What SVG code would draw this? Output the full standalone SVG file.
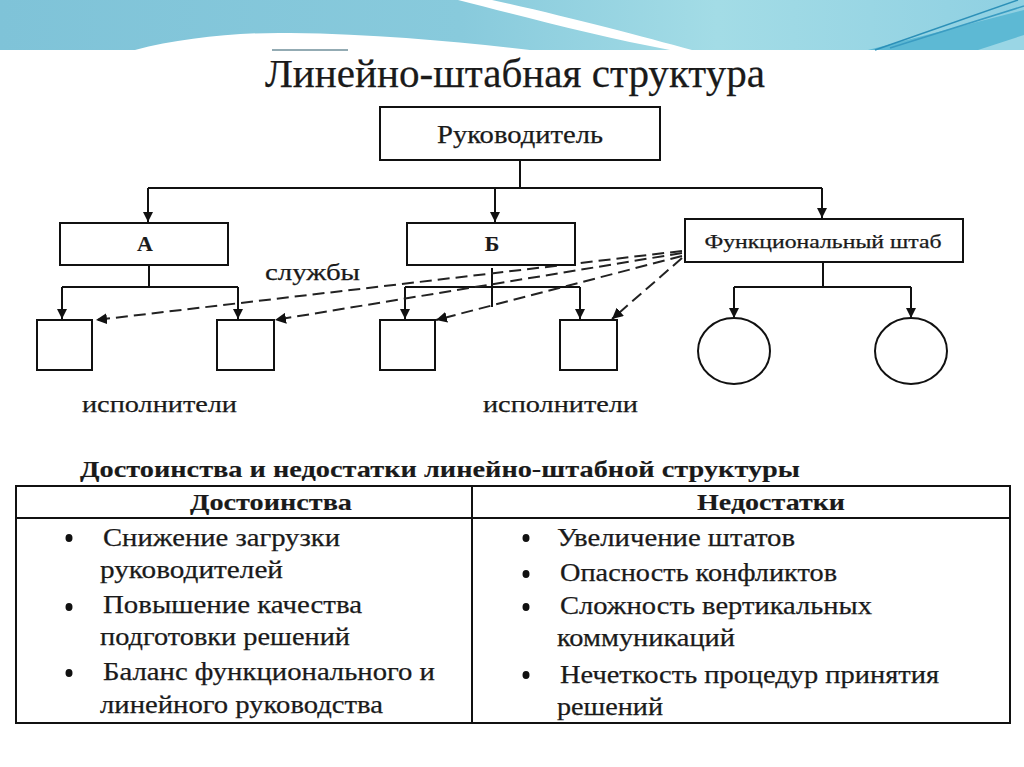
<svg xmlns="http://www.w3.org/2000/svg" width="1024" height="767" viewBox="0 0 1024 767">
<defs>
<linearGradient id="bg" x1="0" y1="0" x2="1" y2="0">
<stop offset="0" stop-color="#7fc3d8"/>
<stop offset="0.45" stop-color="#88cadc"/>
<stop offset="0.7" stop-color="#a3dce6"/>
<stop offset="1" stop-color="#8fd0e2"/>
</linearGradient>
<marker id="ah" viewBox="0 0 10 10" refX="10" refY="5" markerWidth="10" markerHeight="11" markerUnits="userSpaceOnUse" orient="auto">
<path d="M0,0 L10,5 L0,10 Z" fill="#111"/>
</marker>
<marker id="ahd" viewBox="0 0 10 10" refX="10" refY="5" markerWidth="11" markerHeight="11" markerUnits="userSpaceOnUse" orient="auto">
<path d="M0,0 L10,5 L0,10 Z" fill="#111"/>
</marker>
</defs>
<style>
.box{fill:#fff;stroke:#111;stroke-width:2}
.ln{fill:none;stroke:#111;stroke-width:2}
.arr{fill:none;stroke:#111;stroke-width:2;marker-end:url(#ah)}
.dash{fill:none;stroke:#222;stroke-width:2;stroke-dasharray:12 6;marker-end:url(#ahd)}
.t{font-family:"Liberation Serif","Times New Roman","DejaVu Serif",serif;fill:#1a1a1a;stroke:#1a1a1a;stroke-width:0.25}
.b{font-weight:bold;stroke-width:0.15}
</style>
<rect width="1024" height="767" fill="#fff"/>
<g id="banner">
<rect x="0" y="0" width="1024" height="50" fill="url(#bg)"/>
<path d="M135,50 C180,38 240,32 290,33 C380,34 460,42 530,50 Z" fill="#fff"/>
<path d="M458,0 L492,0 C565,16 640,36 692,50 L670,50 C600,37 525,17 458,0 Z" fill="#fff"/>
<path d="M868,50 L1024,10 L1024,50 Z" fill="#5db9d4"/>
<path d="M875,50 L1018,0" stroke="#2c90b8" stroke-width="1.5" fill="none"/>
<path d="M890,48 L1024,6" stroke="#3a9cc2" stroke-width="1.5" fill="none"/>
<path d="M978,50 L1024,35 L1024,50 Z" fill="#9ad6e5"/>
<line x1="272" y1="50" x2="348" y2="50" stroke="#6f8f9a" stroke-width="1.5"/>
</g>
<text class="t" x="515" y="87" font-size="40" text-anchor="middle" textLength="500" lengthAdjust="spacingAndGlyphs">Линейно-штабная структура</text>
<g id="connectors">
<line class="ln" x1="520" y1="160" x2="520" y2="188"/>
<line class="ln" x1="148" y1="188" x2="822" y2="188"/>
<line class="arr" x1="148" y1="188" x2="148" y2="222"/>
<line class="arr" x1="495" y1="188" x2="495" y2="222"/>
<line class="arr" x1="822" y1="188" x2="822" y2="218"/>
<line class="ln" x1="149" y1="265" x2="149" y2="287"/>
<line class="ln" x1="62" y1="287" x2="238" y2="287"/>
<line class="arr" x1="62" y1="287" x2="62" y2="319"/>
<line class="arr" x1="238" y1="287" x2="238" y2="319"/>
<line class="ln" x1="405" y1="287" x2="580" y2="287"/>
<line class="arr" x1="405" y1="287" x2="405" y2="319"/>
<line class="arr" x1="580" y1="287" x2="580" y2="319"/>
<line class="ln" x1="492" y1="268" x2="492" y2="307"/>
<line class="ln" x1="823" y1="262" x2="823" y2="287"/>
<line class="ln" x1="734" y1="287" x2="911" y2="287"/>
<line class="arr" x1="734" y1="287" x2="734" y2="318"/>
<line class="arr" x1="911" y1="287" x2="911" y2="318"/>
<line class="dash" x1="682" y1="251" x2="96" y2="320"/>
<line class="dash" x1="682" y1="253" x2="275" y2="320"/>
<line class="dash" x1="682" y1="256" x2="436" y2="320"/>
<line class="dash" x1="682" y1="258" x2="612" y2="319"/>
</g>
<g id="rukovoditel">
<rect class="box" x="380" y="107" width="280" height="53"/>
<text class="t" x="520" y="143" font-size="25" text-anchor="middle" textLength="166" lengthAdjust="spacingAndGlyphs">Руководитель</text>
</g>
<g id="nodeA">
<rect class="box" x="60" y="223" width="168" height="42"/>
<text class="t b" x="145" y="251" font-size="22" text-anchor="middle">А</text>
</g>
<g id="nodeB">
<rect class="box" x="407" y="223" width="168" height="42"/>
<text class="t b" x="492" y="251" font-size="22" text-anchor="middle">Б</text>
</g>
<g id="shtab">
<rect class="box" x="685" y="219" width="278" height="43"/>
<text class="t" x="823" y="248" font-size="19" text-anchor="middle" textLength="237" lengthAdjust="spacingAndGlyphs">Функциональный штаб</text>
</g>
<g id="exec1"><rect class="box" x="37" y="320" width="55" height="50"/></g>
<g id="exec2"><rect class="box" x="217" y="320" width="57" height="50"/></g>
<g id="exec3"><rect class="box" x="380" y="320" width="55" height="50"/></g>
<g id="exec4"><rect class="box" x="560" y="320" width="57" height="50"/></g>
<g id="staff1"><ellipse class="box" cx="734" cy="351" rx="36" ry="33"/></g>
<g id="staff2"><ellipse class="box" cx="911" cy="351" rx="36" ry="33"/></g>
<text class="t" x="265" y="280" font-size="24" textLength="95" lengthAdjust="spacingAndGlyphs">службы</text>
<text class="t" x="82" y="412" font-size="24" textLength="155" lengthAdjust="spacingAndGlyphs">исполнители</text>
<text class="t" x="483" y="412" font-size="24" textLength="155" lengthAdjust="spacingAndGlyphs">исполнители</text>
<text class="t b" x="80" y="477" font-size="24" textLength="720" lengthAdjust="spacingAndGlyphs">Достоинства и недостатки линейно-штабной структуры</text>
<g id="table">
<rect x="16" y="486" width="994" height="237" fill="none" stroke="#111" stroke-width="2"/>
<line class="ln" x1="16" y1="518" x2="1010" y2="518"/>
<line class="ln" x1="472" y1="486" x2="472" y2="723"/>
<text class="t b" x="190" y="510" font-size="24" textLength="162" lengthAdjust="spacingAndGlyphs">Достоинства</text>
<text class="t b" x="697" y="510" font-size="24" textLength="148" lengthAdjust="spacingAndGlyphs">Недостатки</text>
<g fill="#111">
<ellipse cx="69" cy="538" rx="3.5" ry="4"/>
<ellipse cx="69" cy="607" rx="3.5" ry="4"/>
<ellipse cx="69" cy="673" rx="3.5" ry="4"/>
<ellipse cx="526" cy="538" rx="3.5" ry="4"/>
<ellipse cx="526" cy="574" rx="3.5" ry="4"/>
<ellipse cx="526" cy="607" rx="3.5" ry="4"/>
<ellipse cx="526" cy="675" rx="3.5" ry="4"/>
</g>
<g font-size="25">
<text class="t" x="103" y="546" textLength="237" lengthAdjust="spacingAndGlyphs">Снижение загрузки</text>
<text class="t" x="100" y="578" textLength="183" lengthAdjust="spacingAndGlyphs">руководителей</text>
<text class="t" x="103" y="613" textLength="259" lengthAdjust="spacingAndGlyphs">Повышение  качества</text>
<text class="t" x="100" y="645" textLength="250" lengthAdjust="spacingAndGlyphs">подготовки решений</text>
<text class="t" x="103" y="680" textLength="332" lengthAdjust="spacingAndGlyphs">Баланс функционального и</text>
<text class="t" x="100" y="713" textLength="283" lengthAdjust="spacingAndGlyphs">линейного руководства</text>
<text class="t" x="557" y="546" textLength="238" lengthAdjust="spacingAndGlyphs">Увеличение штатов</text>
<text class="t" x="560" y="581" textLength="277" lengthAdjust="spacingAndGlyphs">Опасность конфликтов</text>
<text class="t" x="560" y="614" textLength="312" lengthAdjust="spacingAndGlyphs">Сложность вертикальных</text>
<text class="t" x="557" y="646" textLength="178" lengthAdjust="spacingAndGlyphs">коммуникаций</text>
<text class="t" x="560" y="683" textLength="379" lengthAdjust="spacingAndGlyphs">Нечеткость процедур принятия</text>
<text class="t" x="557" y="715" textLength="106" lengthAdjust="spacingAndGlyphs">решений</text>
</g>
</g>
</svg>
